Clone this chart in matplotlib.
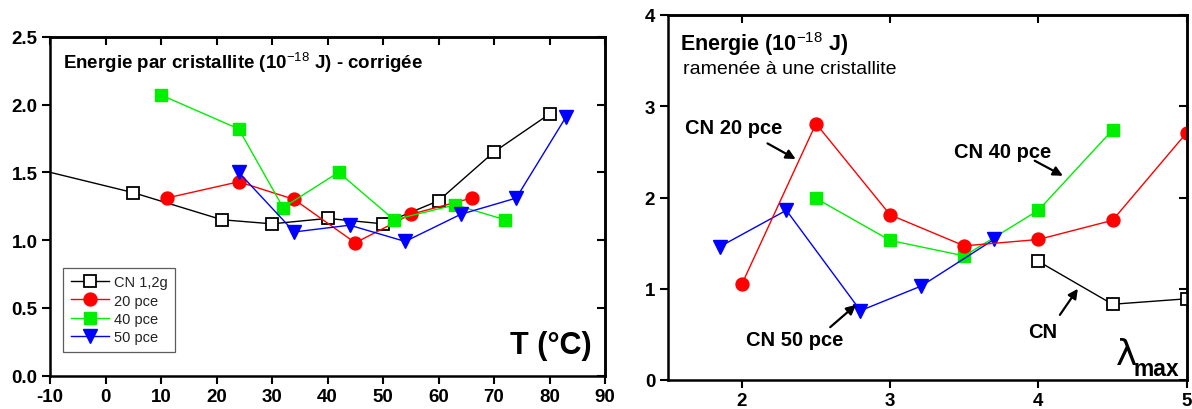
import matplotlib
matplotlib.use("Agg")
import matplotlib.pyplot as plt

plt.rcParams['font.family'] = ['Liberation Sans', 'DejaVu Sans']
plt.rcParams['mathtext.fontset'] = 'custom'
plt.rcParams['mathtext.rm'] = 'Liberation Sans'
plt.rcParams['mathtext.bf'] = 'Liberation Sans:bold'
plt.rcParams['axes.linewidth'] = 1.8

# ---------------- data: left panel (energy vs temperature) ----------------
t_cn12 = [-10, 5, 21, 30, 40, 50, 60, 70, 80]
e_cn12 = [1.50, 1.35, 1.15, 1.12, 1.16, 1.12, 1.29, 1.65, 1.93]
t_20 = [11, 24, 34, 45, 55, 66]
e_20 = [1.31, 1.43, 1.30, 0.98, 1.19, 1.31]
t_40 = [10, 24, 32, 42, 52, 63, 72]
e_40 = [2.07, 1.82, 1.24, 1.50, 1.15, 1.26, 1.15]
t_50 = [24, 34, 44, 54, 64, 74, 83]
e_50 = [1.50, 1.06, 1.11, 0.99, 1.19, 1.31, 1.91]
left_labels = ["CN 1,2g", "20 pce", "40 pce", "50 pce"]
left_xticks = [-10, 0, 10, 20, 30, 40, 50, 60, 70, 80, 90]
left_xticklabels = ["-10", "0", "10", "20", "30", "40", "50", "60", "70", "80", "90"]
left_yticks = [0.0, 0.5, 1.0, 1.5, 2.0, 2.5]
left_yticklabels = ["0.0", "0.5", "1.0", "1.5", "2.0", "2.5"]

# ---------------- data: right panel (energy vs lambda max) ----------------
l_cn = [4.0, 4.5, 5.0]
e_cn = [1.30, 0.83, 0.89]
l_20 = [2.0, 2.5, 3.0, 3.5, 4.0, 4.5, 5.0]
e_20r = [1.05, 2.81, 1.81, 1.47, 1.54, 1.75, 2.71]
l_40 = [2.5, 3.0, 3.5, 4.0, 4.5]
e_40r = [1.99, 1.53, 1.36, 1.86, 2.74]
l_50 = [1.85, 2.30, 2.80, 3.21, 3.70]
e_50r = [1.46, 1.86, 0.76, 1.03, 1.54]
right_xticks = [2, 3, 4, 5]
right_xticklabels = ["2", "3", "4", "5"]
right_yticks = [0, 1, 2, 3, 4]
right_yticklabels = ["0", "1", "2", "3", "4"]

RED = '#ff0000'
GREEN = '#00ee00'
BLUE = '#0000ff'

fig = plt.figure(figsize=(11.92, 4.10), dpi=100)
W, H = 1192, 410

def axes_px(x0, x1, ytop, ybot):
    return fig.add_axes([x0 / W, 1 - ybot / H, (x1 - x0) / W, (ybot - ytop) / H])

def style_axes(ax, xt, xl, yt, yl):
    ax.set_xticks(xt, labels=xl, fontsize=13.5, fontweight='bold')
    ax.set_yticks(yt, labels=yl, fontsize=13.5, fontweight='bold')
    ax.tick_params(axis='both', which='major', direction='out', length=6, width=1.5, pad=3)
    ax.minorticks_off()
    top = ax.secondary_xaxis('top')
    top.set_xticks(xt)
    top.tick_params(direction='in', length=6, width=1.5, labeltop=False)
    right = ax.secondary_yaxis('right')
    right.set_yticks(yt)
    right.tick_params(direction='in', length=6, width=1.5, labelright=False)
    for s in list(top.spines.values()) + list(right.spines.values()):
        s.set_linewidth(1.8)

# ---------------- left panel ----------------
ax1 = axes_px(50, 605, 37.7, 376.7)
ax1.set_xlim(-10, 90)
ax1.set_ylim(0, 2.5)

ms = 8.5
l1, = ax1.plot(t_cn12, e_cn12, '-', color='k', lw=1.0, marker='s', ms=ms - 0.5,
               mfc='white', mec='k', mew=1.3, markevery=list(range(1, len(t_cn12))),
               label=left_labels[0])
l2, = ax1.plot(t_20, e_20, '-', color=RED, lw=1.0, marker='o', ms=ms + 0.8,
               mfc=RED, mec=RED, label=left_labels[1])
l3, = ax1.plot(t_40, e_40, '-', color=GREEN, lw=1.0, marker='s', ms=ms,
               mfc=GREEN, mec=GREEN, label=left_labels[2])
l4, = ax1.plot(t_50, e_50, '-', color=BLUE, lw=1.0, marker='v', ms=ms + 1.5,
               mfc=BLUE, mec=BLUE, label=left_labels[3])
ax1.set_xlim(-10, 90)
ax1.set_ylim(0, 2.5)
style_axes(ax1, left_xticks, left_xticklabels, left_yticks, left_yticklabels)

leg = ax1.legend(handles=[l1, l2, l3, l4], loc='lower left', bbox_to_anchor=(0.024, 0.071),
                 borderaxespad=0, fontsize=10.5, frameon=True, fancybox=False,
                 handlelength=2.6, handletextpad=0.35, labelspacing=0.3, borderpad=0.5)
leg.get_frame().set_edgecolor('#333333')
leg.get_frame().set_linewidth(0.9)
for txt in leg.get_texts():
    txt.set_color('#222222')

ax1.text(-7.66, 2.32, r"Energie par cristallite (10$^{-18}$ J) - corrigée", fontsize=13.5,
         fontweight='bold', ha='left', va='center')
ax1.text(87.5, 0.226, "T (°C)", fontsize=22, fontweight='bold', ha='right', va='center')

# ---------------- right panel ----------------
ax2 = axes_px(667.7, 1186.7, 16, 381)

ax2.plot(l_40, e_40r, '-', color=GREEN, lw=1.0, marker='s', ms=ms, mfc=GREEN, mec=GREEN)
ax2.plot(l_50, e_50r, '-', color=BLUE, lw=1.0, marker='v', ms=ms + 1.5, mfc=BLUE, mec=BLUE)
ax2.plot(l_20, e_20r, '-', color=RED, lw=1.0, marker='o', ms=ms + 0.8, mfc=RED, mec=RED)
ax2.plot(l_cn, e_cn, '-', color='k', lw=1.0, marker='s', ms=ms - 0.5, mfc='white', mec='k', mew=1.3)
ax2.set_xlim(1.5, 5.0)
ax2.set_ylim(0, 4)
style_axes(ax2, right_xticks, right_xticklabels, right_yticks, right_yticklabels)

ax2.text(1.583, 3.69, r"Energie (10$^{-18}$ J)", fontsize=15.5, fontweight='bold',
         ha='left', va='center')
ax2.text(1.603, 3.41, "ramenée à une cristallite", fontsize=14, ha='left', va='center')

arrow = dict(arrowstyle='-|>', lw=1.6, color='k', mutation_scale=14, shrinkA=0, shrinkB=0)
ax2.text(1.615, 2.77, "CN 20 pce", fontsize=14.5, fontweight='bold', ha='left', va='center')
ax2.annotate("", xy=(2.363, 2.421), xytext=(2.173, 2.593), arrowprops=arrow)
ax2.text(3.434, 2.509, "CN 40 pce", fontsize=14.5, fontweight='bold', ha='left', va='center')
ax2.annotate("", xy=(4.165, 2.238), xytext=(3.975, 2.403), arrowprops=arrow)
ax2.text(2.028, 0.443, "CN 50 pce", fontsize=14.5, fontweight='bold', ha='left', va='center')
ax2.annotate("", xy=(2.770, 0.824), xytext=(2.596, 0.579), arrowprops=arrow)
ax2.text(3.93, 0.527, "CN", fontsize=14.5, fontweight='bold', ha='left', va='center')
ax2.annotate("", xy=(4.266, 1.0), xytext=(4.145, 0.714), arrowprops=arrow)

ax2.text(4.52, 0.176, "λ", fontsize=26, ha='left', va='baseline', family=['DejaVu Sans'])
ax2.text(4.642, 0.06, "max", fontsize=16.5, fontweight='bold', ha='left', va='baseline')

fig.savefig("out.png", dpi=100)
